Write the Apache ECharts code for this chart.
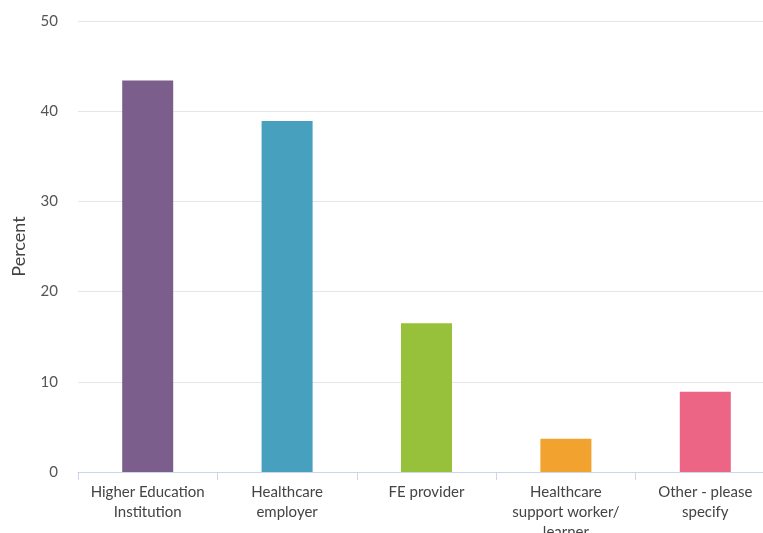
<!DOCTYPE html>
<html><head><meta charset="utf-8">
<script src="https://cdn.jsdelivr.net/npm/echarts@6/dist/echarts.min.js"></script>
<style>html,body{margin:0;padding:0;background:#fff}#c{width:763px;height:533px}</style>
</head><body><div id="c"></div>
<script>
const categories = ["Higher Education Institution", "Healthcare employer", "FE provider", "Healthcare support worker/ learner", "Other - please specify"];
const tickLabels = ["Higher Education\nInstitution", "Healthcare\nemployer", "FE provider", "Healthcare\nsupport worker/\nlearner", "Other - please\nspecify"];
const values = [43.4, 38.9, 16.5, 3.7, 8.9];
const colors = ["#7b5e8c", "#46a0be", "#97c13b", "#f1a22f", "#ec6585"];

const chart = echarts.init(document.getElementById('c'));
chart.setOption({
  animation: false,
  grid: { left: 78, right: -12, top: 21, bottom: 61, containLabel: false, outerBoundsMode: 'none' },
  xAxis: {
    type: 'category',
    data: categories,
    axisLine: { lineStyle: { color: '#ccd6eb' } },
    axisTick: { show: true, length: 8, lineStyle: { color: '#ccd6eb' } },
    axisLabel: {
      interval: 0, margin: 10, color: '#444', fontFamily: 'Lato', fontSize: 15, lineHeight: 20,
      formatter: (v, i) => tickLabels[i]
    }
  },
  yAxis: {
    type: 'value', min: 0, max: 50, interval: 10,
    name: 'Percent', nameLocation: 'middle', nameGap: 50, nameRotate: 90,
    nameTextStyle: { color: '#444', fontFamily: 'Lato', fontSize: 18 },
    axisLine: { show: false }, axisTick: { show: false },
    axisLabel: { margin: 20, color: '#555', fontFamily: 'Lato', fontSize: 15 },
    splitLine: { lineStyle: { color: '#e6e6e6', width: 1 } }
  },
  series: [{
    type: 'bar', barWidth: 51,
    data: values.map((v, i) => ({ value: v, itemStyle: { color: colors[i] } }))
  }]
});
</script></body></html>
